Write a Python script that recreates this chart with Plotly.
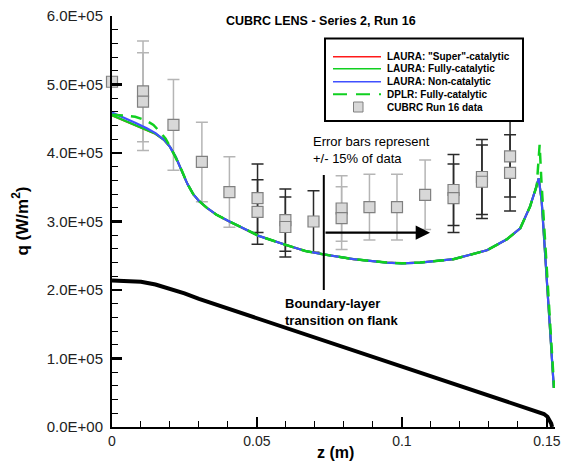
import plotly.graph_objects as go

# ---------------- data ----------------
# LAURA non-catalytic (blue)
laura_nc_z = [0, 0.004, 0.008, 0.012, 0.015, 0.018, 0.020, 0.022, 0.024, 0.026, 0.028, 0.030,
              0.033, 0.036, 0.040, 0.046, 0.0506, 0.0598, 0.0667, 0.073, 0.0833, 0.0948, 0.1,
              0.1063, 0.1178, 0.1293, 0.1362, 0.1408, 0.1442, 0.146, 0.1472, 0.1482, 0.1495,
              0.1508, 0.1524]
laura_nc_q = [459000, 452000, 444000, 436000, 429000, 419000, 409000, 394000, 375000, 355000,
              340000, 330000, 319000, 310000, 301000, 289000, 279000, 266000, 257000, 252000,
              245000, 240000, 239000, 240000, 245000, 258000, 274000, 290000, 322000, 346000,
              363000, 330000, 245000, 160000, 57000]

# LAURA fully-catalytic (green solid)
laura_fc_z = laura_nc_z
laura_fc_q = [455000, 448000, 441000, 434000, 428000, 419000, 409000, 394000, 375000, 355000,
              340000, 330000, 319000, 310000, 301000, 289000, 279000, 266000, 257000, 252000,
              245000, 240000, 239000, 240000, 245000, 258000, 274000, 290000, 322000, 346000,
              363000, 330000, 245000, 160000, 57000]

# LAURA "super"-catalytic (red, hidden beneath the others)
laura_sc_z = laura_nc_z
laura_sc_q = laura_fc_q

# DPLR fully-catalytic (green dashed)
dplr_z = [0, 0.004, 0.008, 0.0115, 0.0143, 0.0165, 0.0185, 0.0207, 0.0224, 0.024, 0.026,
          0.028, 0.030, 0.033, 0.036, 0.040, 0.046, 0.0506, 0.0598, 0.0667, 0.073, 0.0833,
          0.0948, 0.1, 0.1063, 0.1178, 0.1293, 0.1362, 0.1408, 0.1442, 0.1465, 0.1475, 0.1481,
          0.1497, 0.1510, 0.1525]
dplr_q = [456000, 455000, 453000, 448000, 441000, 431000, 421000, 404000, 390000, 375000,
          355000, 340000, 330000, 319000, 310000, 301000, 289000, 279000, 266000, 257000,
          252000, 245000, 240000, 239000, 240000, 245000, 258000, 274000, 290000, 322000,
          352000, 412000, 360000, 250000, 160000, 57000]

# body geometry profile (black)
body_z = [0, 0.005, 0.01, 0.015, 0.02, 0.025, 0.03, 0.035, 0.04, 0.05, 0.1, 0.145,
          0.1475, 0.149, 0.1502, 0.151, 0.1515, 0.1518]
body_q = [214000, 213500, 212000, 208000, 202000, 195000, 187000, 180000, 173000, 159000,
          89000, 26000, 22000, 19000, 15000, 10000, 5000, 0]

# CUBRC Run 16 data
nose_z = [0.0]
nose_q = [504000]
run16_light_z = [0.0107, 0.0107, 0.0212, 0.031, 0.0405, 0.0792, 0.0792, 0.0888, 0.0983, 0.108]
run16_light_q = [490000, 475000, 441000, 387000, 343000, 319000, 305000, 321000, 321000, 339000]
run16_dark_z = [0.0502, 0.0502, 0.0598, 0.0598, 0.0695, 0.1178, 0.1178, 0.1276, 0.1276, 0.1373, 0.1373]
run16_dark_q = [334000, 314000, 302000, 292000, 300000, 346000, 334000, 365000, 358000, 395000, 371000]

error_percent = 15

x_tick_vals = [0, 0.05, 0.1, 0.15]
x_tick_text = ["0", "0.05", "0.1", "0.15"]
x_minor_vals = [0.01, 0.02, 0.03, 0.04, 0.06, 0.07, 0.08, 0.09, 0.11, 0.12, 0.13, 0.14]
y_tick_vals = [0, 100000, 200000, 300000, 400000, 500000, 600000]
y_tick_text = ["0.0E+00", "1.0E+05", "2.0E+05", "3.0E+05", "4.0E+05", "5.0E+05", "6.0E+05"]

legend_labels = ['LAURA: "Super"-catalytic', "LAURA: Fully-catalytic", "LAURA: Non-catalytic",
                 "DPLR: Fully-catalytic", "CUBRC Run 16 data"]

# ---------------- figure ----------------
W, H = 562, 465
L, R, T, B = 112, 555, 16, 427


def px(x):
    return (x - L) / (R - L)


def py(y):
    return (B - y) / (B - T)


RED, GREEN, BLUE = "#ff1a1a", "#10d020", "#4050ff"
FONT = "Liberation Sans, Arial, Helvetica, sans-serif"

fig = go.Figure()

marker = dict(symbol="square", size=11, color="#d8d8d8", line=dict(color="#808080", width=1.2))
fig.add_trace(go.Scatter(x=run16_light_z, y=run16_light_q, mode="markers", marker=marker,
                         error_y=dict(type="percent", value=error_percent, color="#b5b5b5",
                                      thickness=1.5, width=6),
                         showlegend=False, cliponaxis=False))
fig.add_trace(go.Scatter(x=run16_dark_z, y=run16_dark_q, mode="markers", marker=marker,
                         error_y=dict(type="percent", value=error_percent, color="#2a2a2a",
                                      thickness=1.5, width=6),
                         showlegend=False, cliponaxis=False))
fig.add_trace(go.Scatter(x=nose_z, y=nose_q, mode="markers", marker=marker,
                         showlegend=False, cliponaxis=False))

fig.add_trace(go.Scatter(x=body_z, y=body_q, mode="lines",
                         line=dict(color="black", width=4), showlegend=False, cliponaxis=False))
fig.add_trace(go.Scatter(x=laura_sc_z, y=laura_sc_q, mode="lines",
                         line=dict(color=RED, width=2), showlegend=False))
fig.add_trace(go.Scatter(x=laura_fc_z, y=laura_fc_q, mode="lines",
                         line=dict(color=GREEN, width=2.2), showlegend=False))
fig.add_trace(go.Scatter(x=laura_nc_z, y=laura_nc_q, mode="lines",
                         line=dict(color=BLUE, width=2.2), showlegend=False))
fig.add_trace(go.Scatter(x=dplr_z, y=dplr_q, mode="lines",
                         line=dict(color=GREEN, width=2.5, dash="11px,8px"), showlegend=False))

shapes = []
annotations = []

# manual legend
shapes.append(dict(type="rect", xref="paper", yref="paper", x0=px(325), x1=px(523),
                   y0=py(121), y1=py(38.5), line=dict(color="black", width=2),
                   fillcolor="white", layer="above"))
rows = [56.7, 68.8, 81.7, 94.3, 107.3]
styles = [dict(color=RED, width=1.5), dict(color=GREEN, width=1.5), dict(color=BLUE, width=1.5),
          dict(color=GREEN, width=2, dash="14px,9px")]
for ry, st in zip(rows[:4], styles):
    shapes.append(dict(type="line", xref="paper", yref="paper", x0=px(333), x1=px(381),
                       y0=py(ry), y1=py(ry), line=st, layer="above"))
shapes.append(dict(type="rect", xref="paper", yref="paper", x0=px(353.5), x1=px(363),
                   y0=py(112), y1=py(102), fillcolor="#d8d8d8",
                   line=dict(color="#808080", width=1), layer="above"))
for ry, lab in zip(rows, legend_labels):
    annotations.append(dict(xref="paper", yref="paper", x=px(385), y=py(ry), text=lab,
                            showarrow=False, xanchor="left", yanchor="middle",
                            font=dict(family=FONT, size=10, color="black", weight="bold")))

# transition marker line and arrow
shapes.append(dict(type="line", xref="paper", yref="paper", x0=px(323.8), x1=px(323.8),
                   y0=py(290), y1=py(175), line=dict(color="black", width=2)))
annotations.append(dict(xref="paper", yref="paper", x=px(430), y=py(232.7), ax=-106, ay=0,
                        text="", showarrow=True, arrowhead=2, arrowsize=1.3, arrowwidth=2.2,
                        arrowcolor="black"))

# texts
annotations.append(dict(xref="paper", yref="paper", x=px(311), y=py(131.5),
                        text="Error bars represent<br>+/- 15% of data", align="left",
                        showarrow=False, xanchor="left", yanchor="top",
                        font=dict(family=FONT, size=13, color="black")))
annotations.append(dict(xref="paper", yref="paper", x=px(283), y=py(294),
                        text="Boundary-layer<br>transition on flank", align="left",
                        showarrow=False, xanchor="left", yanchor="top",
                        font=dict(family=FONT, size=13, color="black", weight="bold")))

# axis titles
annotations.append(dict(xref="paper", yref="paper", x=px(20), y=0.5, text="q (W/m<sup>2</sup>)",
                        textangle=-90, showarrow=False, xanchor="center", yanchor="middle",
                        font=dict(family=FONT, size=17, color="black", weight="bold")))
annotations.append(dict(xref="paper", yref="paper", x=px(335), y=py(453), text="z (m)",
                        showarrow=False, xanchor="center", yanchor="middle",
                        font=dict(family=FONT, size=16, color="black", weight="bold")))
# chart title
annotations.append(dict(xref="paper", yref="paper", x=px(321), y=py(21),
                        text="CUBRC LENS - Series 2, Run 16",
                        showarrow=False, xanchor="center", yanchor="middle",
                        font=dict(family=FONT, size=12.5, color="black", weight="bold")))

fig.update_layout(
    width=W, height=H,
    margin=dict(l=L, r=W - R, t=T, b=H - B, autoexpand=False),
    paper_bgcolor="white", plot_bgcolor="white",
    font=dict(family=FONT, size=15, color="black"),
    shapes=shapes, annotations=annotations,
    showlegend=False,
)
fig.update_xaxes(
    automargin=False,
    range=[0, 0.1528], showgrid=False, zeroline=False,
    showline=True, linecolor="black", linewidth=2,
    tickmode="array", tickvals=x_tick_vals, ticktext=x_tick_text,
    ticks="inside", ticklen=10, tickwidth=2.5, tickcolor="black",
    tickfont=dict(family=FONT, size=14, color="#222"),
    minor=dict(tickmode="array", tickvals=x_minor_vals,
               ticks="inside", ticklen=6, tickwidth=1, tickcolor="black", showgrid=False),
)
fig.update_yaxes(
    automargin=False,
    range=[0, 600000], showgrid=False, zeroline=False,
    showline=True, linecolor="black", linewidth=2,
    tickmode="array", tickvals=y_tick_vals, ticktext=y_tick_text,
    ticks="inside", ticklen=10, tickwidth=2.5, tickcolor="black",
    ticklabelstandoff=4,
    tickfont=dict(family=FONT, size=15, color="#222"),
    minor=dict(dtick=20000, tick0=0, ticks="inside", ticklen=6, tickwidth=1,
               tickcolor="black", showgrid=False),
)

fig.write_html("out.html", config={"displayModeBar": False, "staticPlot": True},
               post_script="document.body.style.margin='0px';")
